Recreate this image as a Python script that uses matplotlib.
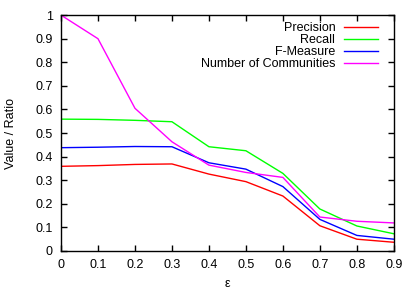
import matplotlib
matplotlib.use('Agg')
import matplotlib.pyplot as plt

# 데이터
eps = [0, 0.1, 0.2, 0.3, 0.4, 0.5, 0.6, 0.7, 0.8, 0.9]
precision = [0.359, 0.362, 0.367, 0.369, 0.326, 0.294, 0.233, 0.107, 0.050, 0.037]
recall = [0.559, 0.558, 0.554, 0.548, 0.442, 0.425, 0.329, 0.178, 0.106, 0.073]
fmeasure = [0.438, 0.440, 0.443, 0.442, 0.374, 0.347, 0.273, 0.134, 0.066, 0.050]
communities = [1.0, 0.9, 0.605, 0.463, 0.364, 0.333, 0.312, 0.144, 0.126, 0.119]

plt.rcParams['font.family'] = ['Liberation Sans', 'DejaVu Sans']
plt.rcParams['font.size'] = 9

fig = plt.figure(figsize=(4.15, 2.91), dpi=100)
ax = fig.add_axes([0.147, 0.1375, 0.802, 0.8105])

ax.plot(eps, precision, color='#ff0000', lw=1, label='Precision')
ax.plot(eps, recall, color='#00ff00', lw=1, label='Recall')
ax.plot(eps, fmeasure, color='#0000ff', lw=1, label='F-Measure')
ax.plot(eps, communities, color='#ff00ff', lw=1, label='Number of Communities')

ax.set_xlim(0, 0.9)
ax.set_ylim(0, 1)
ax.set_xticks(eps)
ax.set_xticklabels(['0', '0.1', '0.2', '0.3', '0.4', '0.5', '0.6', '0.7', '0.8', '0.9'])
ax.set_yticks([i / 10 for i in range(11)])
ax.set_yticklabels(['0', '0.1', '0.2', '0.3', '0.4', '0.5', '0.6', '0.7', '0.8', '0.9', '1'])
ax.tick_params(direction='in', top=True, right=True, length=4, width=1, pad=6)
for s in ax.spines.values():
    s.set_linewidth(1)

ax.set_xlabel('ε', labelpad=5)
ax.set_ylabel('Value / Ratio', labelpad=13)

ax.legend(loc='upper right', bbox_to_anchor=(0.967, 0.992), frameon=False, markerfirst=False,
          handlelength=2.7, labelspacing=0.0, borderaxespad=0.0, handletextpad=0.7)

fig.savefig('out.png', dpi=100)
